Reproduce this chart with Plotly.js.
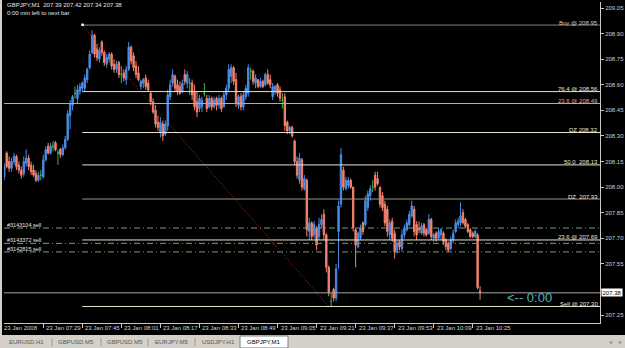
<!DOCTYPE html>
<html><head><meta charset="utf-8">
<script src="https://cdn.plot.ly/plotly-3.0.1.min.js"></script>
<style>html,body{margin:0;padding:0;background:#000;overflow:hidden}#chart{width:625px;height:348px}</style>
</head><body><div id="chart"></div>
<script>
// ---------- data (GBPJPY, M1, 23 Jan 2008, first bar 07:13) ----------
const symbolTitle = "GBPJPY,M1";
const dateLabel = "23 Jan 2008";
const firstBarTime = "07:13";
const open = [208.06,208.20,208.15,208.11,208.15,208.18,208.13,208.10,208.08,208.14,208.17,208.13,208.10,208.08,208.04,208.07,208.06,208.16,208.24,208.20,
208.24,208.26,208.20,208.22,208.19,208.23,208.28,208.42,208.48,208.55,208.52,208.56,208.58,208.58,208.63,208.70,208.79,208.89,208.81,208.75,
208.85,208.79,208.72,208.75,208.78,208.72,208.69,208.73,208.66,208.67,208.63,208.69,208.82,208.77,208.71,208.67,208.59,208.61,208.64,208.61,
208.55,208.50,208.45,208.38,208.32,208.37,208.31,208.36,208.53,208.61,208.65,208.60,208.59,208.56,208.66,208.61,208.61,208.61,208.56,208.50,
208.46,208.47,208.55,208.52,208.47,208.52,208.47,208.52,208.48,208.52,208.47,208.54,208.58,208.65,208.70,208.63,208.48,208.53,208.47,208.53,
208.55,208.68,208.68,208.61,208.63,208.59,208.62,208.60,208.66,208.63,208.53,208.56,208.60,208.57,208.51,208.53,208.38,208.33,208.35,208.27,
208.15,208.04,208.16,207.99,208.04,207.74,207.79,207.72,207.76,207.71,207.78,207.84,207.72,207.53,207.33,207.40,207.35,207.74,207.90,208.10,
207.99,208.01,208.04,208.00,207.75,207.65,207.70,207.79,207.78,207.88,207.95,208.00,208.07,208.05,208.00,207.95,207.90,207.87,207.72,207.80,
207.73,207.63,207.68,207.64,207.72,207.75,207.78,207.83,207.87,207.78,207.76,207.73,207.78,207.75,207.73,207.81,207.70,207.73,207.70,207.72,
207.73,207.69,207.67,207.64,207.69,207.74,207.78,207.79,207.85,207.81,207.78,207.75,207.73,207.71,207.72,207.39];
const high = [208.14,208.21,208.18,208.17,208.20,208.19,208.15,208.12,208.18,208.22,208.19,208.15,208.13,208.10,208.09,208.10,208.19,208.24,208.26,208.26,
208.27,208.27,208.22,208.23,208.25,208.30,208.45,208.51,208.54,208.59,208.60,208.61,208.62,208.66,208.70,208.80,208.92,208.90,208.84,208.82,
208.86,208.80,208.78,208.79,208.79,208.75,208.74,208.74,208.71,208.69,208.71,208.85,208.83,208.79,208.74,208.71,208.63,208.64,208.66,208.63,
208.56,208.52,208.48,208.42,208.41,208.39,208.39,208.57,208.63,208.69,208.66,208.63,208.62,208.63,208.69,208.68,208.64,208.63,208.60,208.56,
208.54,208.53,208.61,208.54,208.54,208.53,208.53,208.53,208.54,208.53,208.56,208.60,208.72,208.72,208.71,208.67,208.54,208.55,208.56,208.60,
208.72,208.70,208.69,208.66,208.63,208.64,208.63,208.67,208.69,208.66,208.61,208.60,208.61,208.59,208.55,208.55,208.39,208.36,208.36,208.28,
208.18,208.20,208.17,208.07,208.05,207.82,207.80,207.80,207.77,207.82,207.84,207.87,207.73,207.54,207.38,207.41,207.55,207.92,208.23,208.12,
208.06,208.06,208.05,208.00,207.76,207.74,207.78,207.80,207.95,207.98,208.01,208.04,208.09,208.09,208.00,207.97,207.92,207.89,207.81,207.82,
207.75,207.69,207.69,207.75,207.78,207.81,207.86,207.92,207.89,207.80,207.80,207.79,207.79,207.76,207.84,207.82,207.73,207.74,207.76,207.76,
207.74,207.70,207.68,207.71,207.75,207.81,207.82,207.91,207.87,207.82,207.79,207.76,207.74,207.75,207.73,207.42];
const low = [208.04,208.11,208.09,208.09,208.13,208.10,208.08,208.05,208.06,208.12,208.10,208.07,208.06,208.03,208.03,208.04,208.05,208.15,208.19,208.19,
208.21,208.21,208.13,208.17,208.18,208.22,208.27,208.34,208.45,208.52,208.49,208.54,208.56,208.56,208.61,208.69,208.78,208.76,208.74,208.73,
208.77,208.71,208.70,208.73,208.69,208.67,208.67,208.64,208.61,208.62,208.60,208.68,208.72,208.68,208.64,208.62,208.57,208.58,208.57,208.56,
208.48,208.43,208.35,208.33,208.29,208.27,208.30,208.33,208.51,208.59,208.56,208.54,208.54,208.55,208.60,208.58,208.54,208.51,208.45,208.41,
208.44,208.44,208.53,208.44,208.46,208.45,208.46,208.45,208.46,208.44,208.47,208.51,208.56,208.61,208.60,208.47,208.46,208.45,208.45,208.51,
208.53,208.63,208.60,208.58,208.58,208.58,208.58,208.59,208.60,208.58,208.51,208.54,208.53,208.50,208.46,208.33,208.31,208.31,208.29,208.13,
208.05,208.02,207.98,207.98,207.71,207.69,207.69,207.70,207.63,207.69,207.76,207.69,207.50,207.36,207.30,207.33,207.33,207.52,207.88,207.98,
207.98,207.99,207.99,207.74,207.53,207.64,207.69,207.72,207.77,207.86,207.92,207.97,207.98,208.01,207.88,207.86,207.77,207.71,207.69,207.68,
207.58,207.61,207.63,207.62,207.70,207.74,207.77,207.82,207.71,207.69,207.73,207.72,207.71,207.71,207.72,207.69,207.68,207.68,207.69,207.69,
207.66,207.63,207.62,207.63,207.67,207.73,207.76,207.77,207.78,207.76,207.73,207.70,207.70,207.70,207.40,207.34];
const close = [208.12,208.12,208.11,208.15,208.18,208.12,208.10,208.07,208.15,208.17,208.12,208.09,208.07,208.04,208.07,208.07,208.16,208.22,208.20,208.24,
208.24,208.22,208.20,208.19,208.23,208.28,208.43,208.49,208.53,208.55,208.57,208.59,208.61,208.64,208.69,208.78,208.89,208.78,208.76,208.80,
208.79,208.73,208.76,208.78,208.71,208.69,208.72,208.66,208.66,208.64,208.69,208.82,208.74,208.70,208.66,208.63,208.62,208.63,208.59,208.57,
208.50,208.44,208.37,208.35,208.38,208.30,208.37,208.54,208.60,208.66,208.58,208.56,208.55,208.61,208.62,208.66,208.61,208.54,208.47,208.44,
208.52,208.51,208.55,208.46,208.52,208.47,208.51,208.48,208.52,208.46,208.54,208.58,208.69,208.70,208.62,208.49,208.53,208.47,208.54,208.58,
208.70,208.68,208.62,208.64,208.59,208.62,208.59,208.66,208.61,208.60,208.59,208.59,208.55,208.52,208.51,208.36,208.33,208.35,208.30,208.15,
208.07,208.17,208.00,208.05,207.75,207.79,207.71,207.78,207.66,207.78,207.81,207.72,207.53,207.38,207.33,207.35,207.52,207.89,208.19,208.00,
208.04,208.04,208.00,207.76,207.66,207.73,207.76,207.74,207.92,207.96,207.99,208.00,208.00,208.02,207.90,207.88,207.79,207.74,207.79,207.70,
207.62,207.67,207.65,207.72,207.76,207.79,207.84,207.89,207.74,207.72,207.75,207.77,207.73,207.72,207.81,207.71,207.72,207.70,207.74,207.75,
207.68,207.65,207.63,207.69,207.73,207.79,207.80,207.83,207.79,207.77,207.74,207.71,207.71,207.74,207.41,207.38];

const timeTicks = ["07:29","07:45","08:01","08:17","08:33","08:49","09:05","09:21","09:37","09:53","10:09","10:25"];
const priceTicks = [209.05,208.90,208.75,208.60,208.45,208.30,208.15,208.00,207.85,207.70,207.55,207.40,207.25];

const fibStart = "07:45", fibEnd = "09:26";
const fibHigh = 208.95, fibLow = 207.30;
const fibPrices = [208.95,208.56,208.32,208.13,207.93,207.69,207.30];
const fibLabels = ["Buy @ 208.95","76.4 @ 208.56","DZ 208.32","50.0  208.13","DZ  207.93","23.6 @ 207.69","Sell @ 207.30"];
const otherLevelPrice = 208.49, otherLevelLabel = "23.6 @ 208.49";
const orderPrices = [207.76,207.67,207.62];
const orderLabels = ["#3143104 sell","#3143372 sell","#3142815 sell"];
const bidPrice = 207.38;
const lastBar = {o:207.39,h:207.42,l:207.34,c:207.38};
const tabs = ["EURUSD,H1","GBPUSD,M5","GBPUSD,M5","EURJPY,M5","USDJPY,H1","GBPJPY,M1"];

// ---------- derived ----------
const pad = n => (n<10?"0":"")+n;
const toMin = t => { const [h,m]=t.split(":").map(Number); return h*60+m; };
const t0 = toMin(firstBarTime);
const times = open.map((_,i)=>{const m=t0+i;return pad(Math.floor(m/60))+":"+pad(m%60);});
const idxOf = t => times.indexOf(t) >= 0 ? times.indexOf(t) : toMin(t)-t0;

// ---------- styles ----------
const BLUE="#4a8de6", SALMON="#f4826e", GREEN="#3fb24a";
const FONT="Liberation Sans, Arial, sans-serif";
const PX = x => (x-4)/596;      // pixel -> paper x
const PY = y => (323-y)/321;    // pixel -> paper y
const fibLineColors = ["#85846f","#e6e2cf","#e6e2cf","#e6e2cf","#9a9886","#e6e2cf","#e6e2cf"];
const fibTextColors = ["#d0cfc0","#e8e6d8","#e8e6d8","#e8e6d8","#e8e6d8","#e8e6d8","#e8e6d8"];

function subset(pred){
  const r={x:[],open:[],high:[],low:[],close:[]};
  for(let i=0;i<open.length;i++){ if(pred(open[i],close[i])){r.x.push(i);r.open.push(open[i]);r.high.push(high[i]);r.low.push(low[i]);r.close.push(close[i]);} }
  return r;
}
function candle(d,color){
  return Object.assign({type:"candlestick",hoverinfo:"skip",whiskerwidth:0,
    increasing:{line:{color:color,width:1},fillcolor:color},
    decreasing:{line:{color:color,width:1},fillcolor:color}},d);
}
const traces=[candle(subset((o,c)=>c>o),BLUE),candle(subset((o,c)=>c<o),SALMON),candle(subset((o,c)=>c===o),GREEN)];

const shapes=[];
const ann=[];
const fs=idxOf(fibStart), fe=idxOf(fibEnd);

// full-width other level
shapes.push({type:"line",xref:"paper",yref:"y",x0:0,x1:1,y0:otherLevelPrice,y1:otherLevelPrice,line:{color:"#e09a88",width:1}});
// order lines
orderPrices.forEach(p=>shapes.push({type:"line",xref:"paper",yref:"y",x0:0,x1:1,y0:p,y1:p,line:{color:"#6f9f78",width:1,dash:"6px,3px,1px,3px"}}));
// bid line
shapes.push({type:"line",xref:"paper",yref:"y",x0:0,x1:1,y0:bidPrice,y1:bidPrice,line:{color:"#a8a8a8",width:1}});
// fib lines
fibPrices.forEach((p,k)=>shapes.push({type:"line",xref:"x",yref:"y",x0:fs,x1:300,y0:p,y1:p,line:{color:fibLineColors[k],width:1}}));
// trend (dotted red)
shapes.push({type:"line",xref:"x",yref:"y",x0:fs,y0:fibHigh,x1:fe,y1:fibLow,line:{color:"#b03a28",width:1,dash:"1px,2px"}});
// anchor dot
shapes.push({type:"rect",xref:"x",yref:"y",xsizemode:"pixel",ysizemode:"pixel",xanchor:fs,yanchor:fibHigh,x0:-1,x1:1.5,y0:-1,y1:1.5,fillcolor:"#ffffff",line:{width:0}});

// window chrome: left border, tab bar
shapes.push({type:"rect",xref:"paper",yref:"paper",x0:PX(0),x1:PX(2),y0:PY(335),y1:PY(0),fillcolor:"#d4d0c8",line:{width:0},layer:"above"});
shapes.push({type:"rect",xref:"paper",yref:"paper",x0:PX(0),x1:PX(625),y0:PY(348),y1:PY(335),fillcolor:"#d4d0c8",line:{width:0}});
shapes.push({type:"rect",xref:"paper",yref:"paper",x0:PX(240),x1:PX(288),y0:PY(348),y1:PY(336),fillcolor:"#ffffff",line:{color:"#808080",width:1}});
[52,101,148,195].forEach(x=>shapes.push({type:"line",xref:"paper",yref:"paper",x0:PX(x),x1:PX(x),y0:PY(346),y1:PY(338),line:{color:"#a09c94",width:1}}));

// top-left info
ann.push({xref:"paper",yref:"paper",x:PX(5),y:PY(5),xanchor:"left",yanchor:"middle",showarrow:false,
  text:symbolTitle+"  "+[lastBar.o,lastBar.h,lastBar.l,lastBar.c].map(v=>v.toFixed(2)).join(" "),font:{size:6,color:"#e6e6e6"}});
ann.push({xref:"paper",yref:"paper",x:PX(5),y:PY(13),xanchor:"left",yanchor:"middle",showarrow:false,
  text:"0:00 min left to next bar",font:{size:6,color:"#e6e6e6"}});
// fib labels
fibPrices.forEach((p,k)=>ann.push({xref:"paper",yref:"y",x:PX(599),y:p,xanchor:"right",yanchor:"bottom",yshift:-1.5,showarrow:false,borderpad:0,
  text:fibLabels[k],font:{size:6,color:fibTextColors[k]}}));
ann.push({xref:"paper",yref:"y",x:PX(599),y:otherLevelPrice,xanchor:"right",yanchor:"bottom",yshift:-1.5,showarrow:false,borderpad:0,
  text:otherLevelLabel,font:{size:6,color:"#eea290"}});
// order labels
orderPrices.forEach((p,k)=>ann.push({xref:"paper",yref:"y",x:PX(6),y:p,xanchor:"left",yanchor:"bottom",yshift:-1,showarrow:false,borderpad:0,
  text:orderLabels[k],font:{size:5.5,color:"#e8e8e8"}}));
// countdown
ann.push({xref:"paper",yref:"y",x:PX(505),y:207.355,xanchor:"left",yanchor:"middle",showarrow:false,
  text:"<-- 0:00",font:{size:13,color:"#4fb7bd"}});
// bid price box (covers the 207.40 scale position, as in the terminal)
ann.push({xref:"paper",yref:"y",x:1,xshift:1,y:bidPrice,xanchor:"left",yanchor:"middle",showarrow:false,borderpad:0.5,
  bgcolor:"#ffffff",text:bidPrice.toFixed(2),font:{size:6,color:"#000000"}});
// time labels
ann.push({xref:"paper",yref:"paper",x:PX(2),y:PY(327.5),xanchor:"left",yanchor:"middle",showarrow:false,text:dateLabel,font:{size:6,color:"#d0d0d0"}});
timeTicks.forEach(t=>ann.push({xref:"x",yref:"paper",x:idxOf(t),xshift:1,y:PY(327.5),xanchor:"left",yanchor:"middle",showarrow:false,
  text:"23 Jan "+t,font:{size:6,color:"#d0d0d0"}}));
// tabs
const tabCenters=[26,75.5,124.5,171.5,218.5,264];
tabs.forEach((t,k)=>ann.push({xref:"paper",yref:"paper",x:PX(tabCenters[k]),y:PY(342),xanchor:"center",yanchor:"middle",showarrow:false,
  text:t,font:{size:6,color:k===tabs.length-1?"#000000":"#555555"}}));
ann.push({xref:"paper",yref:"paper",x:PX(610),y:PY(341.5),xanchor:"center",yanchor:"middle",showarrow:false,text:"◂",font:{size:6,color:"#8a8a8a"}});
ann.push({xref:"paper",yref:"paper",x:PX(620),y:PY(341.5),xanchor:"center",yanchor:"middle",showarrow:false,text:"▸",font:{size:6,color:"#8a8a8a"}});

// the 207.40 scale label sits under the bid box; keep its tick mark only
const hiddenUnderBid = v => Math.abs(v-bidPrice) < 0.05;
const layout={
  width:625,height:348,margin:{l:4,r:25,t:2,b:25,pad:0},
  paper_bgcolor:"#000000",plot_bgcolor:"#000000",showlegend:false,
  font:{family:FONT,size:6,color:"#d0d0d0"},
  boxgap:0.3,boxgroupgap:0.2,
  xaxis:{type:"linear",range:[-0.1,244.16],showgrid:false,zeroline:false,showline:true,linecolor:"#c8c8c8",linewidth:1,
    ticks:"outside",ticklen:4,tickwidth:1,tickcolor:"#c8c8c8",tickmode:"array",tickvals:timeTicks.map(idxOf),showticklabels:false,
    rangeslider:{visible:false},fixedrange:true},
  yaxis:{side:"right",range:[207.2031,209.0852],showgrid:false,zeroline:false,showline:true,linecolor:"#c8c8c8",linewidth:1,
    ticks:"outside",ticklen:3,tickwidth:1,tickcolor:"#c8c8c8",tickmode:"array",tickvals:priceTicks,
    ticktext:priceTicks.map(v=>hiddenUnderBid(v)?"":v.toFixed(2)),
    tickfont:{family:FONT,size:6,color:"#cfcfcf"},fixedrange:true},
  shapes:shapes,annotations:ann
};
Plotly.newPlot("chart",traces,layout,{staticPlot:true,displayModeBar:false});
</script></body></html>
